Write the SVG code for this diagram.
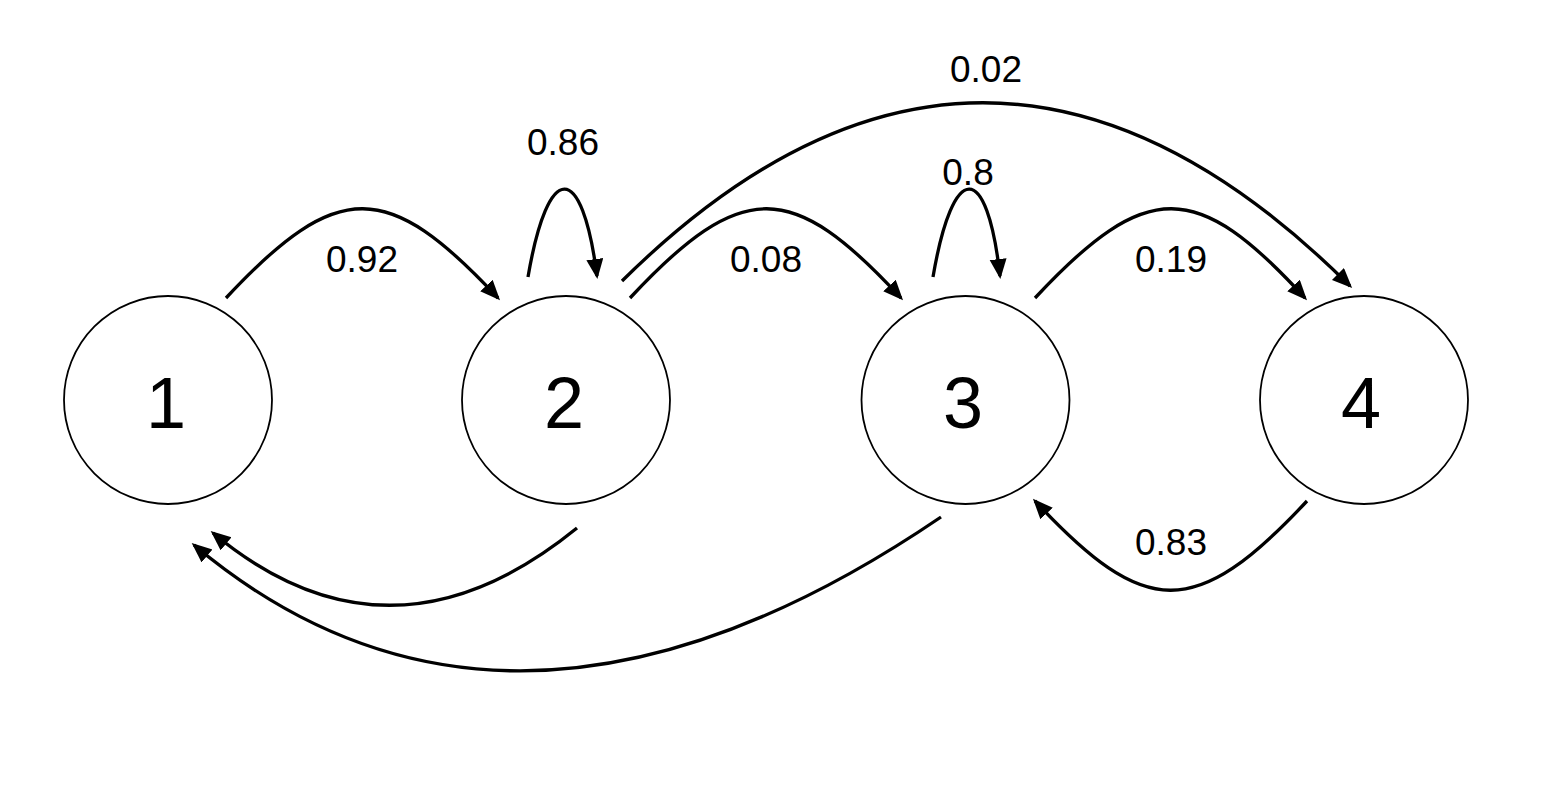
<svg xmlns="http://www.w3.org/2000/svg" width="1548" height="797" viewBox="0 0 1548 797">
<style>
.node circle{fill:#fff;stroke:#000;stroke-width:1.8}
.node text{font-family:"Liberation Sans",Arial,sans-serif;font-size:72px;text-anchor:middle;fill:#000}
.edge{fill:none;stroke:#000;stroke-width:3.3;marker-end:url(#ah)}
.lbl{font-family:"Liberation Sans",Arial,sans-serif;font-size:37px;text-anchor:middle;fill:#000}
</style>
<defs>
<marker id="ah" markerUnits="userSpaceOnUse" markerWidth="22" markerHeight="18" refX="17" refY="8.5" orient="auto">
<path d="M0,0 L20,8.5 L0,17 z" fill="#000"/>
</marker>
</defs>
<rect width="1548" height="797" fill="#fff"/>
<g id="connectors">
<path class="edge" d="M226,298 C338,178 388,180 498,298"/>
<path class="edge" d="M630,298 C742,178 792,180 901,298"/>
<path class="edge" d="M1035,298 C1147,178 1197,180 1305,298"/>
<path class="edge" d="M528,277 C548,160 582,160 597,276"/>
<path class="edge" d="M933,277 C953,160 987,160 1000,276"/>
<path class="edge" d="M622,281 Q985,-78 1350,286"/>
<path class="edge" d="M1307,501 C1195,621 1145,619 1035,501"/>
<path class="edge" d="M577,528 Q390,680 213,533"/>
<path class="edge" d="M941,517 Q510,810 194,545"/>
</g>
<g id="labels">
<text class="lbl" x="362" y="272">0.92</text>
<text class="lbl" x="563" y="155">0.86</text>
<text class="lbl" x="766" y="272">0.08</text>
<text class="lbl" x="968" y="185">0.8</text>
<text class="lbl" x="1171" y="272">0.19</text>
<text class="lbl" x="986" y="82">0.02</text>
<text class="lbl" x="1171" y="555">0.83</text>
</g>
<g id="node1" class="node"><circle cx="168" cy="400" r="104"/><text x="166" y="428">1</text></g>
<g id="node2" class="node"><circle cx="566" cy="400" r="104"/><text x="564" y="428">2</text></g>
<g id="node3" class="node"><circle cx="965.5" cy="400" r="104"/><text x="963" y="428">3</text></g>
<g id="node4" class="node"><circle cx="1364" cy="400" r="104"/><text x="1361" y="428">4</text></g>
</svg>
